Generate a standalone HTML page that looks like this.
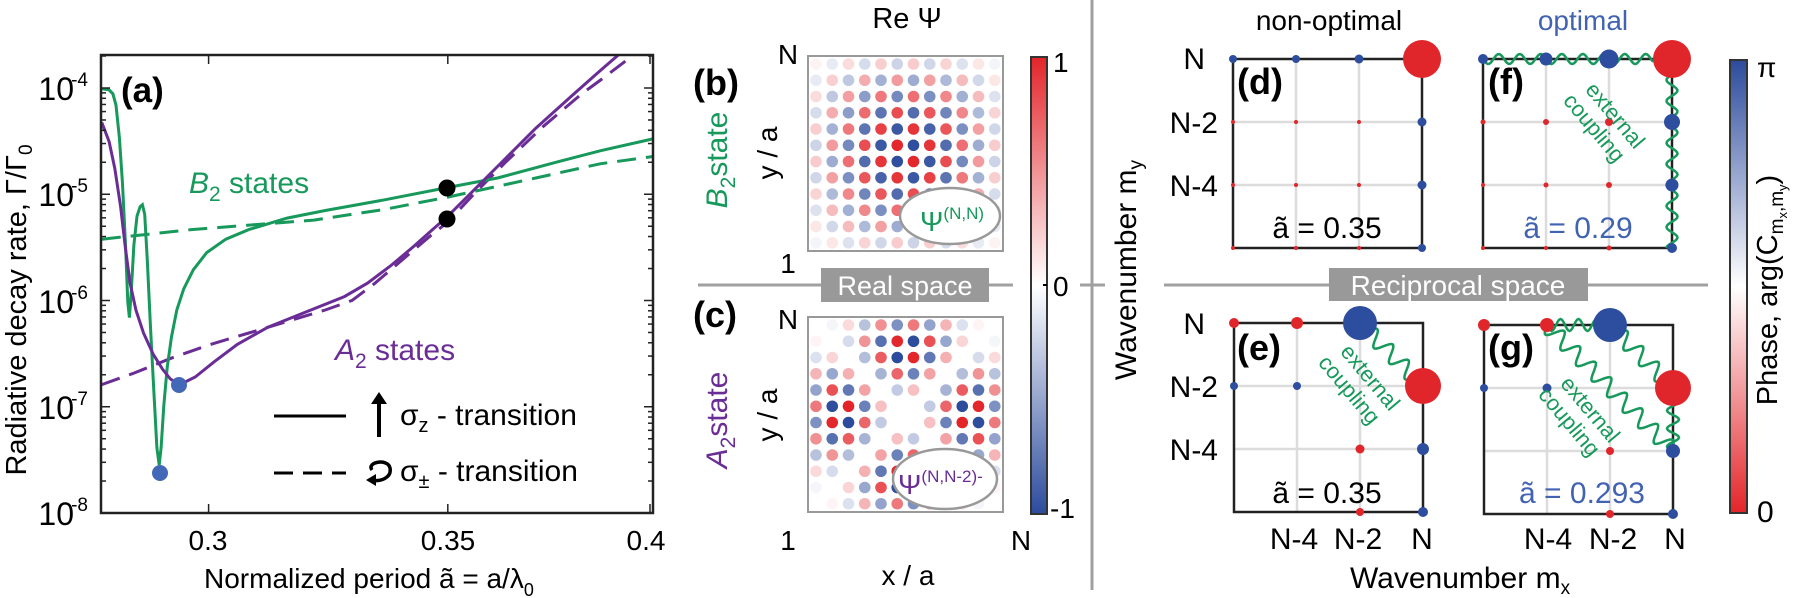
<!DOCTYPE html>
<html><head><meta charset="utf-8"><style>
html,body{margin:0;padding:0;background:#fff;}
svg{display:block;font-family:"Liberation Sans",sans-serif;}
</style></head><body>
<svg id="s" width="1795" height="598" viewBox="0 0 1795 598" xmlns="http://www.w3.org/2000/svg">
<defs>
<clipPath id="ca"><rect x="101" y="55" width="552" height="458"/></clipPath>
<linearGradient id="g1" x1="0" y1="0" x2="0" y2="1"><stop offset="0" stop-color="#e3252a"/><stop offset="0.5" stop-color="#ffffff"/><stop offset="1" stop-color="#2c4b9c"/></linearGradient>
<linearGradient id="g2" x1="0" y1="0" x2="0" y2="1"><stop offset="0" stop-color="#2c4b9c"/><stop offset="0.5" stop-color="#ffffff"/><stop offset="1" stop-color="#e3252a"/></linearGradient>
</defs>
<g id="a"></g>
<g font-size="28" fill="#000">
<text x="208" y="550" text-anchor="middle">0.3</text>
<text x="448" y="550" text-anchor="middle">0.35</text>
<text x="646" y="550" text-anchor="middle">0.4</text>
<text x="204" y="588">Normalized period ã = a/λ<tspan font-size="18" dy="8">0</tspan></text>
<text transform="translate(26,310) rotate(-90)" text-anchor="middle" font-size="29">Radiative decay rate, Γ/Γ<tspan font-size="19" dy="6">0</tspan></text>
</g>
<g font-size="32" fill="#000" text-anchor="end">
<text x="74" y="100">10</text><text x="88" y="86" font-size="19">-4</text>
<text x="74" y="206">10</text><text x="88" y="192" font-size="19">-5</text>
<text x="74" y="313">10</text><text x="88" y="299" font-size="19">-6</text>
<text x="74" y="419">10</text><text x="88" y="405" font-size="19">-7</text>
<text x="74" y="525">10</text><text x="88" y="511" font-size="19">-8</text>
</g>
<text x="121" y="102" font-size="35" font-weight="bold">(a)</text>
<text x="189" y="193" font-size="30" fill="#17995b"><tspan font-style="italic">B</tspan><tspan font-size="21" dy="8">2</tspan><tspan dy="-8"> states</tspan></text>
<text x="335" y="360" font-size="30" fill="#6a2d96"><tspan font-style="italic">A</tspan><tspan font-size="21" dy="8">2</tspan><tspan dy="-8"> states</tspan></text>
<line x1="274" y1="416" x2="346" y2="416" stroke="#000" stroke-width="3"/>
<line x1="379" y1="437" x2="379" y2="402" stroke="#000" stroke-width="4"/>
<path d="M371,404 L379,392 L387,404 Z" fill="#000"/>
<text x="400" y="425" font-size="30">σ<tspan font-size="20" dy="7">z</tspan><tspan dy="-7"> - transition</tspan></text>
<line x1="274" y1="473" x2="346" y2="473" stroke="#000" stroke-width="3" stroke-dasharray="19,10"/>
<path d="M372,470 C366,462 388,458 390,468 C392,478 380,482 372,480" fill="none" stroke="#000" stroke-width="3.5"/>
<path d="M366,480 L376,474 L376,486 Z" fill="#000"/>
<text x="400" y="481" font-size="30">σ<tspan font-size="20" dy="7">±</tspan><tspan dy="-7"> - transition</tspan></text>

<text x="907" y="28" font-size="29" text-anchor="middle">Re Ψ</text>
<rect x="808" y="56" width="195" height="195" fill="#fff" stroke="#999" stroke-width="2"/>
<rect x="808" y="317" width="195" height="195" fill="#fff" stroke="#999" stroke-width="2"/>
<g id="dots"></g>
<ellipse cx="950" cy="216" rx="50" ry="28" fill="#fff" stroke="#999" stroke-width="2.5"/>
<text x="920" y="231" font-size="28" fill="#17995b">Ψ<tspan font-size="17" dy="-12">(N,N)</tspan></text>
<ellipse cx="945" cy="479" rx="52" ry="30" fill="#fff" stroke="#999" stroke-width="2.5"/>
<text x="898" y="494" font-size="28" fill="#6a2d96">Ψ<tspan font-size="17" dy="-12">(N,N-2)-</tspan></text>
<text x="693" y="95" font-size="36" font-weight="bold">(b)</text>
<text x="693" y="327" font-size="36" font-weight="bold">(c)</text>
<g font-size="28">
<text x="788" y="64" text-anchor="middle">N</text>
<text x="788" y="273" text-anchor="middle">1</text>
<text x="788" y="329" text-anchor="middle">N</text>
<text x="788" y="550" text-anchor="middle">1</text>
<text x="1021" y="550" text-anchor="middle">N</text>
<text x="908" y="585" text-anchor="middle">x / a</text>
<text transform="translate(777,153) rotate(-90)" text-anchor="middle">y / a</text>
<text transform="translate(777,415) rotate(-90)" text-anchor="middle">y / a</text>
</g>
<text transform="translate(727,160) rotate(-90)" text-anchor="middle" font-size="30" fill="#17995b"><tspan font-style="italic">B</tspan><tspan font-size="21" dy="8">2</tspan><tspan dy="-8">state</tspan></text>
<text transform="translate(727,420) rotate(-90)" text-anchor="middle" font-size="30" fill="#6a2d96"><tspan font-style="italic">A</tspan><tspan font-size="21" dy="8">2</tspan><tspan dy="-8">state</tspan></text>
<line x1="698" y1="285" x2="1013" y2="285" stroke="#a0a0a0" stroke-width="3"/>
<rect x="821" y="268" width="168" height="34" fill="#999"/>
<text x="905" y="295" font-size="27" fill="#fff" text-anchor="middle">Real space</text>
<rect x="1031" y="57" width="16" height="457" fill="url(#g1)" stroke="#333" stroke-width="2"/>
<line x1="1043" y1="285" x2="1047" y2="285" stroke="#000" stroke-width="2"/>
<g font-size="28"><text x="1053" y="72">1</text><text x="1053" y="296">0</text><text x="1050" y="518">-1</text></g>
<line x1="1080" y1="285" x2="1105" y2="285" stroke="#a0a0a0" stroke-width="3"/>
<line x1="1092" y1="0" x2="1092" y2="590" stroke="#a0a0a0" stroke-width="3"/>

<text transform="translate(1136,270) rotate(-90)" text-anchor="middle" font-size="30">Wavenumber m<tspan font-size="19" dy="6">y</tspan></text>
<text x="1329" y="30" font-size="28" text-anchor="middle">non-optimal</text>
<text x="1583" y="30" font-size="28" text-anchor="middle" fill="#4263b2">optimal</text>
<line x1="1164" y1="285" x2="1708" y2="285" stroke="#a0a0a0" stroke-width="3"/>
<rect x="1329" y="268" width="259" height="33" fill="#999"/>
<text x="1458" y="295" font-size="28" fill="#fff" text-anchor="middle">Reciprocal space</text>
<g id="rec"></g>
<g font-size="30" text-anchor="end">
<text x="1205" y="69">N</text><text x="1218" y="133">N-2</text><text x="1218" y="196">N-4</text>
<text x="1205" y="334">N</text><text x="1218" y="397">N-2</text><text x="1218" y="460">N-4</text>
</g>
<g font-size="30" text-anchor="middle">
<text x="1294" y="549">N-4</text><text x="1358" y="549">N-2</text><text x="1422" y="549">N</text>
<text x="1548" y="549">N-4</text><text x="1613" y="549">N-2</text><text x="1675" y="549">N</text>
</g>
<text x="1460" y="588" font-size="30" text-anchor="middle">Wavenumber m<tspan font-size="19" dy="6">x</tspan></text>
<g font-size="36" font-weight="bold">
<text x="1237" y="94">(d)</text><text x="1488" y="94">(f)</text>
<text x="1237" y="360">(e)</text><text x="1488" y="360">(g)</text>
</g>
<g font-size="30" text-anchor="middle">
<text x="1327" y="238">ã = 0.35</text>
<text x="1578" y="238" fill="#4263b2">ã = 0.29</text>
<text x="1327" y="503">ã = 0.35</text>
<text x="1582" y="503" fill="#4263b2">ã = 0.293</text>
</g>
<g font-size="22" fill="#17995b" text-anchor="middle">
<text transform="translate(1605,124) rotate(50)"><tspan x="0" dy="-6">external</tspan><tspan x="-4" dy="24">coupling</tspan></text>
<text transform="translate(1360,386) rotate(50)"><tspan x="0" dy="-6">external</tspan><tspan x="-4" dy="24">coupling</tspan></text>
<text transform="translate(1580,418) rotate(50)"><tspan x="0" dy="-6">external</tspan><tspan x="-4" dy="24">coupling</tspan></text>
</g>
<rect x="1730" y="60" width="17" height="453" fill="url(#g2)" stroke="#333" stroke-width="2"/>
<text x="1757" y="77" font-size="28">π</text>
<text x="1757" y="522" font-size="30">0</text>
<text transform="translate(1777,290) rotate(-90)" text-anchor="middle" font-size="29">Phase, arg(C<tspan font-size="19" dy="6">m</tspan><tspan font-size="13" dy="4">x</tspan><tspan font-size="19" dy="-4">,m</tspan><tspan font-size="13" dy="4">y</tspan><tspan dy="-10">)</tspan></text>
</svg>
<script>
var NS="http://www.w3.org/2000/svg";
function el(p,t,a){var e=document.createElementNS(NS,t);for(var k in a)e.setAttribute(k,a[k]);p.appendChild(e);return e;}
var A=document.getElementById('a');
var sc=2.613;
function pts(arr){return arr.map(function(p){return (p[0]/sc).toFixed(1)+','+(p[1]/sc).toFixed(1);}).join(' ');}
var G='#17995b',P='#6a2d96';
var gc=el(A,'g',{'clip-path':'url(#ca)'});
el(gc,'polyline',{points:pts([[266,625],[500,600],[820,575],[1000,548],[1170,515],[1400,465],[1568,428],[1706,409]]),fill:'none',stroke:G,'stroke-width':3,'stroke-dasharray':'19,10'});
el(gc,'polyline',{points:pts([[266,1005],[350,975],[450,935],[550,900],[650,870],[750,840],[850,810],[920,785],[980,740],[1050,680],[1120,620],[1170,580],[1240,505],[1320,425],[1420,330],[1520,245],[1568,210],[1700,110]]),fill:'none',stroke:P,'stroke-width':3,'stroke-dasharray':'19,10'});
el(gc,'polyline',{points:pts([[266,232],[285,235],[295,245],[303,275],[312,360],[320,480],[328,640],[334,790],[338,830],[343,760],[350,640],[358,565],[366,540],[372,535],[378,560],[385,680],[393,850],[402,1020],[410,1170],[416,1215],[421,1170],[428,1060],[437,960],[448,880],[462,810],[480,755],[505,705],[540,660],[590,625],[650,600],[750,570],[850,550],[1000,523],[1170,490],[1300,465],[1450,425],[1568,394],[1706,363]]),fill:'none',stroke:G,'stroke-width':3});
el(gc,'polyline',{points:pts([[266,320],[285,370],[300,440],[315,540],[328,650],[340,740],[355,810],[375,870],[400,925],[425,965],[445,990],[460,1000],[480,1000],[510,985],[560,945],[620,900],[700,855],[800,815],[900,775],[960,740],[1020,695],[1080,645],[1130,600],[1170,565],[1230,505],[1300,435],[1400,335],[1500,245],[1568,185],[1660,105]]),fill:'none',stroke:P,'stroke-width':3});
el(A,'circle',{cx:447,cy:188,r:8.5,fill:'#000'});
el(A,'circle',{cx:447,cy:219,r:8.5,fill:'#000'});
el(A,'circle',{cx:160,cy:473,r:8,fill:'#4468b8'});
el(A,'circle',{cx:179,cy:385,r:8,fill:'#4468b8'});
el(A,'rect',{x:101,y:55,width:552,height:458,fill:'none',stroke:'#222','stroke-width':2.5});
for(var d=0;d<5;d++){var y0=513-d*106.25;
 for(var m=1;m<10;m++){var y=y0-Math.log10(m)*106.25;if(y<55)break;var L=(m==1)?9:5;
  el(A,'line',{x1:101,y1:y,x2:101+L,y2:y,stroke:'#222','stroke-width':1.5});
  el(A,'line',{x1:653,y1:y,x2:653-L,y2:y,stroke:'#222','stroke-width':1.5});}}
[208.6,447.8,650].forEach(function(x){el(A,'line',{x1:x,y1:513,x2:x,y2:504,stroke:'#222','stroke-width':1.5});el(A,'line',{x1:x,y1:55,x2:x,y2:64,stroke:'#222','stroke-width':1.5});});
var D=document.getElementById('dots');
function col(v){v=Math.max(-1,Math.min(1,v));var r,g,b;
 if(v>=0){r=255+(227-255)*v;g=255+(37-255)*v;b=255+(42-255)*v;}else{var t=-v;r=255+(44-255)*t;g=255+(75-255)*t;b=255+(156-255)*t;}
 return 'rgb('+Math.round(r)+','+Math.round(g)+','+Math.round(b)+')';}
var n=12;function s(k,i){return Math.sin(k*Math.PI*(i+1)/13);}
var vals=[],mx=0;
for(var i=0;i<n;i++)for(var j=0;j<n;j++){var v=s(1,i)*s(3,j)-s(3,i)*s(1,j);vals.push(v);mx=Math.max(mx,Math.abs(v));}
for(var i=0;i<n;i++)for(var j=0;j<n;j++){
 var sg=((i+j)%2==0)?1:-1;
 var vb=sg*s(1,i)*s(1,j);
 el(D,'circle',{cx:816+16.25*i,cy:64+16.25*j,r:5.8,fill:col(vb)});
 var va=sg*vals[i*n+j]/mx;
 el(D,'circle',{cx:816+16.25*i,cy:325+16.25*j,r:5.8,fill:col(va)});}
var R=document.getElementById('rec');
var RED='#e0262b',BL='#2d4e9e';
function wavy(x1,y1,x2,y2,amp,per){var dx=x2-x1,dy=y2-y1,L=Math.hypot(dx,dy),ux=dx/L,uy=dy/L,nx=-uy,ny=ux;var d='';var N=Math.ceil(L/1.5);
 for(var k=0;k<=N;k++){var t=k/N*L;var o=amp*Math.sin(2*Math.PI*t/per);var x=x1+ux*t+nx*o,y=y1+uy*t+ny*o;d+=(k?'L':'M')+x.toFixed(1)+','+y.toFixed(1);}
 el(R,'path',{d:d,fill:'none',stroke:G,'stroke-width':2.5});}
function panel(x0,y0,dots,waves){var sp=63,x1=x0+3*sp,y1=y0+3*sp;
 for(var k=1;k<3;k++){el(R,'line',{x1:x0+k*sp,y1:y0,x2:x0+k*sp,y2:y1,stroke:'#dcdcdc','stroke-width':2.5});el(R,'line',{x1:x0,y1:y0+k*sp,x2:x1,y2:y0+k*sp,stroke:'#dcdcdc','stroke-width':2.5});}
 el(R,'rect',{x:x0,y:y0,width:3*sp,height:3*sp,fill:'none',stroke:'#222','stroke-width':2.5});
 (waves||[]).forEach(function(w){wavy(x0+w[0]*sp,y0+w[1]*sp,x0+w[2]*sp,y0+w[3]*sp,w[4],w[5]);});
 dots.forEach(function(d){el(R,'circle',{cx:x0+d[0]*sp,cy:y0+d[1]*sp,r:d[2],fill:d[3]?BL:RED});});}
panel(1233,59,[[0,0,4,1],[1,0,4,1],[2,0,4.5,1],[3,0,19,0],[0,1,2,0],[1,1,2,0],[2,1,2,0],[3,1,4.5,1],[0,2,2,0],[1,2,2,0],[2,2,2,0],[3,2,4.5,1],[0,3,2,0],[1,3,2,0],[2,3,2,0],[3,3,4,1]]);
panel(1483,59,[[0,0,5,1],[1,0,6.5,1],[2,0,9.5,1],[3,0,19,0],[0,1,2.5,0],[1,1,3,0],[2,1,4,0],[3,1,8,1],[0,2,2,0],[1,2,2.5,0],[2,2,3,0],[3,2,6.5,1],[0,3,2,0],[1,3,2,0],[2,3,2.5,0],[3,3,5,1]],
 [[0,0,2.7,0,5,21],[3,0.25,3,3,5.5,21]]);
panel(1234,323,[[0,0,5,0],[1,0,6,0],[2,0,17,1],[0,1,4,1],[1,1,4,1],[3,1,18,0],[2,2,4.5,0],[3,2,6,1],[2,3,4,0],[3,3,5,1]],
 [[2,0,3,1,8,22]]);
panel(1484,325,[[0,0,6,0],[1,0,7,0],[2,0,17,1],[0,1,4,1],[1,1,4.5,1],[3,1,18,0],[2,2,4,0],[3,2,7,1],[2,3,4,0],[3,3,5,1]],
 [[1,0,2,0,6,18],[2,0,3,1,8,22],[1,0,3,2,8,22],[3,1,3,2,6,18]]);
</script>
</body></html>
